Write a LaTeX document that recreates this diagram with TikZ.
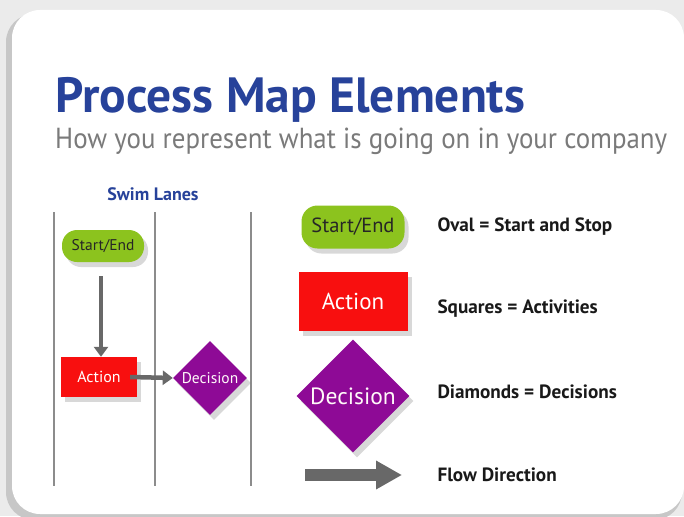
\documentclass[tikz,border=0pt]{standalone}
\usepackage{fontspec}
\setmainfont{PT Sans}
\newfontfamily\subfont[FakeStretch=0.928]{PT Sans}
\usetikzlibrary{shapes.geometric,shadows,arrows.meta}
\definecolor{titleblue}{HTML}{27429A}
\definecolor{subgray}{HTML}{7A7A7A}
\definecolor{ovalgreen}{HTML}{8CC31E}
\definecolor{actred}{HTML}{F80F0F}
\definecolor{decpurple}{HTML}{8E0A96}
\definecolor{arrowgray}{HTML}{686868}
\definecolor{lanegray}{HTML}{8C8C8C}
\tikzset{
  shad/.style={drop shadow={opacity=0.3,shadow xshift=4pt,shadow yshift=-5pt}},
  ovalbox/.style={shape=rectangle,rounded corners=#1,fill=ovalgreen,shad,text=black!85,inner sep=0pt},
  actbox/.style={shape=rectangle,fill=actred,shad,text=white,inner sep=0pt},
  decbox/.style={shape=diamond,fill=decpurple,shad,text=white!90!pink,inner sep=0pt,aspect=1},
  lane/.style={draw=lanegray,line width=1.6pt},
  flow/.style={draw=arrowgray,line width=5pt,-{Triangle[length=11pt,width=15pt]}},
  legend/.style={anchor=west,font=\fontsize{19.2}{19.2}\selectfont\bfseries,text=black!90}
}
\begin{document}
\begin{tikzpicture}[x=1pt,y=-1pt]
\useasboundingbox (0,0) rectangle (684,516);
\fill[black!8] (0,0) rectangle (684,516);
\fill[black!22] (6,14) [rounded corners=28] rectangle (682,520);
\fill[white,rounded corners=28] (12,10) rectangle (684,514);
% titles
\node[anchor=base west,inner sep=0pt,text=titleblue,font=\fontsize{49.5}{50}\selectfont\bfseries] (title) at (55,112) {Process Map Elements};
\node[anchor=base west,inner sep=0pt,text=subgray,font=\fontsize{29}{29}\subfont] (sub) at (55,148) {How you represent what is going on in your company};
\node[text=titleblue,font=\fontsize{18}{18}\selectfont\bfseries] (sl) at (153,194) {Swim Lanes};
% lanes
\coordinate (l1t) at (54,212); \coordinate (l1b) at (54,486);
\coordinate (l2t) at (155,212); \coordinate (l2b) at (155,486);
\coordinate (l3t) at (251,212); \coordinate (l3b) at (251,486);
\draw[lane] (l1t) -- (l1b);
\draw[lane] (l2t) -- (l2b);
\draw[lane] (l3t) -- (l3b);
% small flow
\node[ovalbox=15pt,minimum width=82pt,minimum height=32pt,font=\fontsize{15.5}{15.5}\selectfont] (s1) at (103,246) {Start/End};
\node[actbox,minimum width=76pt,minimum height=40pt,font=\fontsize{16}{16}\selectfont] (a1) at (99,377) {Action};
\node[decbox,minimum width=74pt,minimum height=74pt,font=\fontsize{15.5}{15.5}\selectfont] (d1) at (210,378) {Decision};
\draw[flow,line width=4.5pt,-{Triangle[length=10pt,width=14pt]}] ([yshift=-14pt]s1.south -| 101,0) -- (a1.north -| 101,0);
\draw[flow,line width=4.5pt,-{Triangle[length=10pt,width=14pt]}] ([xshift=-7pt]a1.east) -- (d1.west);
% legend shapes
\node[ovalbox=16pt,minimum width=103pt,minimum height=43pt,font=\fontsize{20.5}{20.5}\selectfont] (s2) at (353,227) {Start/End};
\node[actbox,minimum width=109pt,minimum height=59pt,font=\fontsize{23}{23}\selectfont] (a2) at (353,301) {Action};
\node[decbox,minimum width=113pt,minimum height=113pt,font=\fontsize{23.5}{23.5}\selectfont] (d2) at (353,396) {Decision};
\coordinate (f1) at (305,475);
\coordinate (f2) at (402,475);
\draw[flow,line width=12pt,-{Triangle[length=26pt,width=27pt]}] (f1) -- (f2);
% legend text
\node[legend] (t1) at (434,227) {Oval = Start and Stop};
\node[legend] (t2) at (434,309) {Squares = Activities};
\node[legend] (t3) at (434,392) {Diamonds = Decisions};
\node[legend] (t4) at (434,475) {Flow Direction};
\end{tikzpicture}
\end{document}
